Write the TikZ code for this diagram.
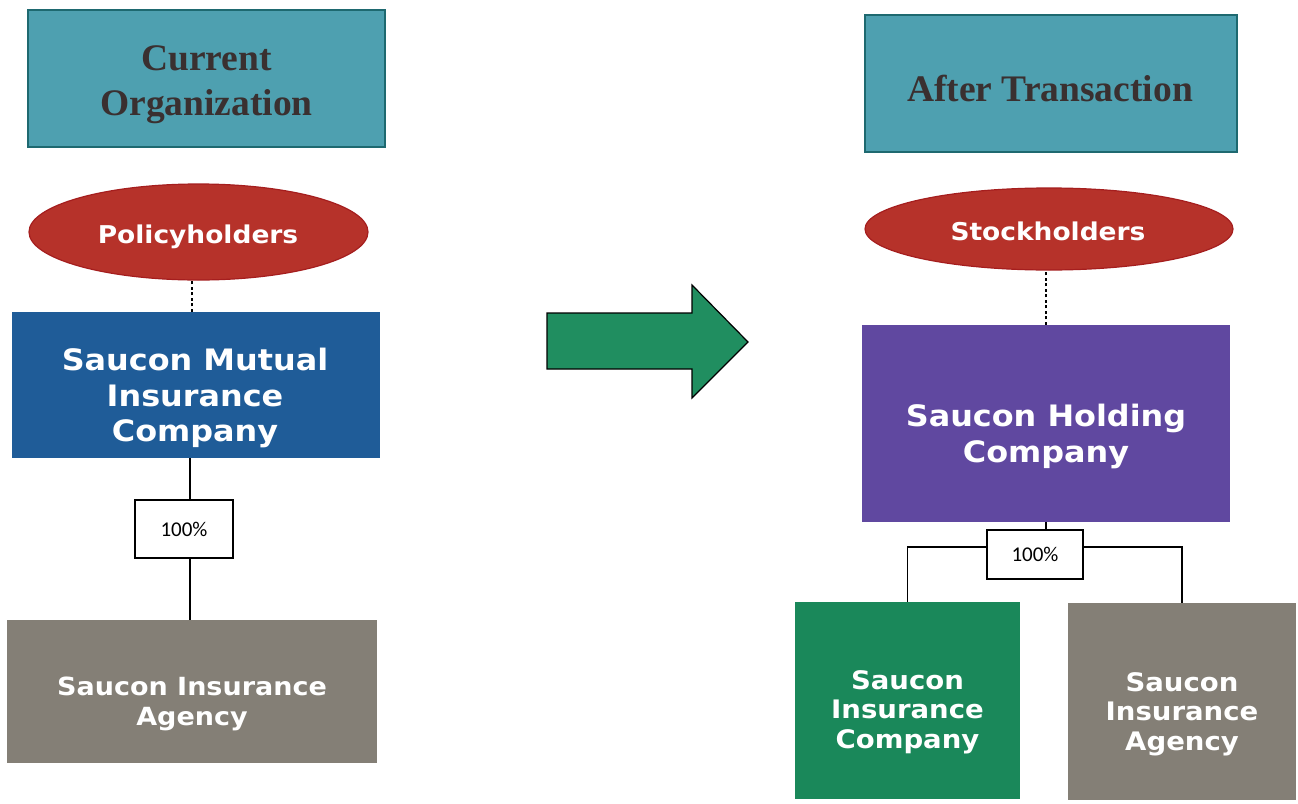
\documentclass[tikz,border=0pt]{standalone}
\usepackage{fontspec}
\setmainfont{Liberation Serif}
\newfontfamily\verd{DejaVu Sans}[FakeStretch=1.08]
\newfontfamily\calib{Carlito}
\usetikzlibrary{shapes.geometric}
\definecolor{tealfill}{RGB}{78,160,176}
\definecolor{tealdraw}{RGB}{30,105,112}
\definecolor{titletext}{RGB}{58,48,48}
\definecolor{redfill}{RGB}{182,50,42}
\definecolor{reddraw}{RGB}{165,30,30}
\definecolor{bluefill}{RGB}{31,92,152}
\definecolor{grayfill}{RGB}{132,127,118}
\definecolor{purplefill}{RGB}{96,72,160}
\definecolor{greenfill}{RGB}{26,136,90}
\definecolor{arrowfill}{RGB}{32,142,96}
\tikzset{
  titlebox/.style={draw=tealdraw, line width=2.5pt, fill=tealfill, inner sep=0pt},
  titletxt/.style={text=titletext, font=\fontsize{37.5}{45}\selectfont\bfseries, align=center, inner sep=0pt},
  oval/.style={ellipse, draw=reddraw, line width=1.2pt, fill=redfill, inner sep=0pt},
  ovaltext/.style={text=white, font=\verd\bfseries\fontsize{24.5}{30}\selectfont, inner sep=0pt},
  orgbox/.style={draw=none, inner sep=0pt},
  orgtext/.style={text=white, align=center, inner sep=0pt},
  pctbox/.style={draw=black, line width=1.2pt, fill=white, inner sep=0pt,
    font=\calib\fontsize{21}{24}\selectfont},
  link/.style={draw=black, line width=1.2pt},
  dlink/.style={draw=black, line width=1.2pt, dash pattern=on 3pt off 2.5pt}
}
\begin{document}
\begin{tikzpicture}[x=1pt,y=-1pt]
\useasboundingbox (0,0) rectangle (1298,803);
% left side
\node[titlebox, minimum width=357, minimum height=137] (t1) at (206.5,78.5) {};
\node[titletxt] (t1t) at (206.5,85) {Current\\Organization};
\node[oval, minimum width=339, minimum height=96] (e1) at (198.5,232) {};
\node[ovaltext] (e1t) at (198,237) {Policyholders};
\node[orgbox, fill=bluefill, minimum width=368, minimum height=146] (b1) at (196,385) {};
\node[orgtext, font=\verd\bfseries\fontsize{29.5}{35.5}\selectfont] (b1t) at (195,398) {Saucon Mutual\\Insurance\\Company};
\node[pctbox, minimum width=98, minimum height=58] (p1) at (184,529) {100\%};
\node[orgbox, fill=grayfill, minimum width=370, minimum height=143] (g1) at (192,691.5) {};
\node[orgtext, font=\verd\bfseries\fontsize{25}{30}\selectfont] (g1t) at (192,704) {Saucon Insurance\\Agency};
\draw[dlink] ([xshift=-4]b1.north) -- ([xshift=-4]b1.north |- e1.south);
\draw[link] (b1.south -| p1.north) ++(6,0) coordinate (b1p) -- (b1p |- p1.north);
\draw[link] (b1p |- p1.south) -- (b1p |- g1.north);
% arrow
\draw[fill=arrowfill, draw=black, line width=1.2pt, line join=miter]
  (547,313) -- (692,313) -- (692,285) -- (748,342) -- (692,398) -- (692,369) -- (547,369) -- cycle;
% right side
\node[titlebox, minimum width=372, minimum height=137] (t2) at (1051,83.5) {};
\node[titletxt] (t2t) at (1050,88.5) {After Transaction};
\node[oval, minimum width=368, minimum height=82] (e2) at (1049,229) {};
\node[ovaltext] (e2t) at (1048,231) {Stockholders};
\node[orgbox, fill=purplefill, minimum width=368, minimum height=197] (pb) at (1046,423.5) {};
\node[orgtext, font=\verd\bfseries\fontsize{29.5}{36}\selectfont] (pbt) at (1046,436) {Saucon Holding\\Company};
\node[pctbox, minimum width=96, minimum height=49] (p2) at (1035,554.5) {100\%};
\node[orgbox, fill=greenfill, minimum width=225, minimum height=197] (gb) at (907.5,700.5) {};
\node[orgtext, font=\verd\bfseries\fontsize{25.5}{29.5}\selectfont] (gbt) at (907.5,712) {Saucon\\Insurance\\Company};
\node[orgbox, fill=grayfill, minimum width=228, minimum height=197] (g2) at (1182,701.5) {};
\node[orgtext, font=\verd\bfseries\fontsize{25.5}{29.5}\selectfont] (g2t) at (1182,714) {Saucon\\Insurance\\Agency};
\draw[dlink] (pb.north) -- (pb.north |- e2.south);
\draw[link] ([xshift=11]pb.south -| p2.north) coordinate (pbp) -- (pbp |- p2.north);
\draw[link] ([yshift=7.5]p2.west) -| (gb.north);
\draw[link] ([yshift=7.5]p2.east) -| (g2.north);
\end{tikzpicture}
\end{document}
